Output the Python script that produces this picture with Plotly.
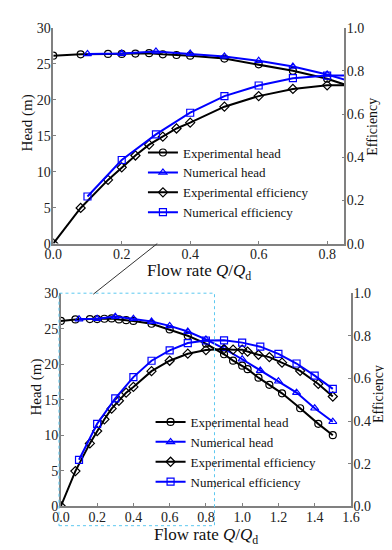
import plotly.graph_objects as go

# ---- data ----
exp_q = [0.0, 0.08, 0.16, 0.2, 0.24, 0.28, 0.32, 0.36, 0.4, 0.5, 0.6, 0.7, 0.8,
         0.9, 0.95, 1.0, 1.03, 1.09, 1.15, 1.22, 1.32, 1.42, 1.5]
exp_head = [26.1, 26.3, 26.35, 26.35, 26.4, 26.45, 26.3, 26.2, 26.1, 25.7, 24.9, 24.0, 22.9,
            21.4, 20.5, 19.8, 19.3, 18.1, 17.1, 15.9, 13.8, 11.6, 10.0]
exp_eff = [0.0, 0.165, 0.295, 0.353, 0.408, 0.458, 0.495, 0.533, 0.56, 0.634, 0.683, 0.716, 0.733,
           0.738, 0.735, 0.735, 0.726, 0.711, 0.70, 0.674, 0.635, 0.574, 0.515]

num_q = [0.1, 0.2, 0.3, 0.4, 0.5, 0.6, 0.7, 0.8, 0.9, 1.0, 1.1, 1.2, 1.3, 1.4, 1.5]
num_head = [26.35, 26.4, 26.7, 26.4, 26.0, 25.4, 24.6, 23.5, 22.2, 20.7, 19.1, 17.6, 16.0, 13.8, 11.9]
num_eff = [0.218, 0.387, 0.506, 0.606, 0.683, 0.732, 0.766, 0.778, 0.779, 0.768, 0.749, 0.715,
           0.670, 0.613, 0.551]

names = ["Experimental head", "Numerical head", "Experimental efficiency", "Numerical efficiency"]
x_title = "Flow rate <i>Q</i>/<i>Q</i><sub>d</sub>"
head_title = "Head (m)"
eff_title = "Efficiency"

W, H = 392, 550
FONT = "Liberation Serif, DejaVu Serif, serif"
BLUE = "#0000ff"
BLACK = "#000000"
AX = "#808080"

def px(x):
    return x / W

def py(y):
    return 1 - y / H

fig = go.Figure()

series = [
    (exp_q, exp_head, names[0], BLACK, "circle-open", False),
    (num_q, num_head, names[1], BLUE, "triangle-up-open", False),
    (exp_q, exp_eff, names[2], BLACK, "diamond-open", True),
    (num_q, num_eff, names[3], BLUE, "square-open", True),
]

for panel, (xa, ya_l, ya_r, leg) in enumerate([("x", "y", "y2", "legend"), ("x2", "y3", "y4", "legend2")]):
    for qs, vs, nm, col, sym, sec in series:
        fig.add_trace(go.Scatter(
            x=qs, y=vs, name=nm, mode="lines+markers",
            line=dict(color=col, width=2),
            marker=dict(symbol=sym, size=7, color=col, line=dict(width=1.2, color=col)),
            xaxis=xa, yaxis=(ya_r if sec else ya_l), legend=leg,
            cliponaxis=True,
        ))

tickfont = dict(family=FONT, size=14, color="#222")
common_x = dict(showline=True, linecolor=AX, linewidth=1.5, ticks="inside", ticklen=3,
                tickcolor=AX, showgrid=False, zeroline=False, tickfont=tickfont,
                tickformat=".1f", dtick=0.2, ticklabelstandoff=-3)
common_y = dict(showline=True, linecolor=AX, linewidth=1.5, ticks="inside", ticklen=3,
                tickcolor=AX, showgrid=False, zeroline=False, tickfont=tickfont,
                ticklabelstandoff=-2)

top_x = [px(38), px(343)]
top_y = [py(235), py(13)]
bot_x = [px(46), px(350)]
bot_y = [py(505), py(286)]

legfont = dict(family=FONT, size=13, color="#111")

fig.update_layout(
    width=W, height=H,
    margin=dict(l=0, r=0, t=0, b=0),
    paper_bgcolor="white", plot_bgcolor="white",
    showlegend=True,
    xaxis=dict(domain=top_x, range=[0, 0.85], anchor="y", **common_x),
    yaxis=dict(domain=top_y, range=[0, 30], anchor="x", dtick=5, **common_y),
    yaxis2=dict(range=[0, 1], overlaying="y", side="right", anchor="x", dtick=0.2, tickformat=".1f",
                **common_y),
    xaxis2=dict(domain=bot_x, range=[0, 1.6], anchor="y3", **common_x),
    yaxis3=dict(domain=bot_y, range=[0, 30], anchor="x2", dtick=5, **common_y),
    yaxis4=dict(range=[0, 1], overlaying="y3", side="right", anchor="x2", dtick=0.2, tickformat=".1f",
                **common_y),
    legend=dict(x=px(132), y=py(126), xanchor="left", yanchor="top", bgcolor="rgba(0,0,0,0)",
                font=legfont, tracegroupgap=0, itemwidth=30),
    legend2=dict(x=px(140), y=py(403), xanchor="left", yanchor="top", bgcolor="rgba(0,0,0,0)",
                 font=legfont, tracegroupgap=0, itemwidth=30),
)

titlefont_x = dict(family=FONT, size=17, color="#111")
titlefont_h = dict(family=FONT, size=15, color="#111")
titlefont_e = dict(family=FONT, size=14, color="#111")
for tx, ty, txt, f, ang in [
    (191, 264, x_title, titlefont_x, 0),
    (198, 536, x_title, titlefont_x, 0),
    (12, 111, head_title, titlefont_h, -90),
    (21, 383, head_title, titlefont_h, -90),
    (373, 115, eff_title, titlefont_e, -90),
    (379, 390, eff_title, titlefont_e, -90),
]:
    fig.add_annotation(x=px(tx), y=py(ty), xref="paper", yref="paper", text=txt, showarrow=False,
                       font=f, textangle=ang, xanchor="center", yanchor="middle")

# zoom-window rectangle and connector line
fig.add_shape(type="rect", xref="paper", yref="paper",
              x0=px(44), x1=px(207), y0=py(525), y1=py(286),
              line=dict(color="#5cc8f0", width=1, dash="dot"), fillcolor="rgba(0,0,0,0)", layer="above")
fig.add_shape(type="line", xref="paper", yref="paper",
              x0=px(80), y0=py(287), x1=px(147), y1=py(235),
              line=dict(color="#333", width=1))

fig.write_html("out.html")
